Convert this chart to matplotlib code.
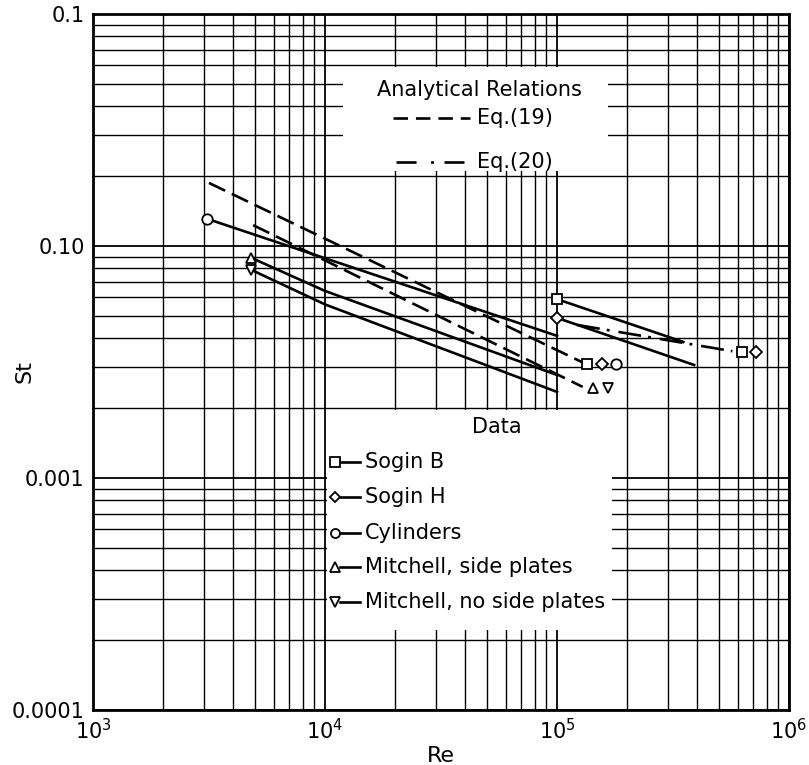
import numpy as np
import matplotlib
matplotlib.use("Agg")
import matplotlib.pyplot as plt
from matplotlib import ticker
from matplotlib.patches import Rectangle
from matplotlib.lines import Line2D

plt.rcParams['font.family'] = ['DejaVu Sans']
plt.rcParams['mathtext.fontset'] = 'dejavusans'

# ---- data series (Re, St) ----
re_cyl = [3.1e3, 1.0e5]
st_cyl = [0.0131, 0.0041]

re_mit_sp = [4.8e3, 1.0e4, 1.0e5]
st_mit_sp = [0.0089, 0.0064, 0.00278]

re_mit_nsp = [4.8e3, 1.0e4, 1.0e5]
st_mit_nsp = [0.0079, 0.0056, 0.00235]

re_sogin_b = [1.0e5, 3.5e5]
st_sogin_b = [0.0059, 0.00386]

re_sogin_h = [1.0e5, 3.9e5]
st_sogin_h = [0.0049, 0.00307]

# ---- analytical relations ----
re_eq19_a = [3.16e3, 1.28e5]
st_eq19_a = [0.0187, 0.00316]

re_eq19_b = [4.9e3, 1.29e5]
st_eq19_b = [0.0123, 0.00247]

re_eq20 = [1.22e5, 5.7e5]
st_eq20 = [0.00457, 0.00352]

# end-of-range symbols for the analytical curves
re_end_ab = [1.35e5, 1.56e5, 1.8e5]
st_end_ab = [0.0031, 0.0031, 0.0031]
re_end_m = [1.43e5, 1.66e5]
st_end_m = [0.00244, 0.00244]
re_end_20 = [6.3e5, 7.2e5]
st_end_20 = [0.0035, 0.0035]

ytick_vals = [1e-4, 1e-3, 1e-2, 1e-1]
ytick_text = ["0.0001", "0.001", "0.10", "0.1"]
xtick_vals = [1e3, 1e4, 1e5, 1e6]
xtick_text = [r"$10^3$", r"$10^4$", r"$10^5$", r"$10^6$"]

legend_names = ["Sogin B", "Sogin H", "Cylinders",
                "Mitchell, side plates", "Mitchell, no side plates"]
legend_marks = ["s", "D", "o", "^", "v"]

# ---- figure ----
fig = plt.figure(figsize=(8.09, 7.65), dpi=100)
ax = fig.add_axes([0.1150, 0.0719, 0.8603, 0.9098])
ax.set_xscale("log")
ax.set_yscale("log")
ax.set_xlim(1e3, 1e6)
ax.set_ylim(1e-4, 1e-1)
ax.set_axisbelow(True)

for axis, vals in ((ax.xaxis, xtick_vals), (ax.yaxis, ytick_vals)):
    axis.set_major_locator(ticker.FixedLocator(vals))
    axis.set_minor_locator(ticker.LogLocator(base=10, subs=np.arange(2, 10)))
    axis.set_minor_formatter(ticker.NullFormatter())

ax.grid(which="major", color="black", linewidth=1.3)
ax.grid(which="minor", color="black", linewidth=1.0)
ax.tick_params(which="both", length=0, labelsize=15, pad=6)
ax.set_xticks(xtick_vals)
ax.set_xticklabels(xtick_text)
ax.set_yticks(ytick_vals)
ax.set_yticklabels(ytick_text)
for sp in ax.spines.values():
    sp.set_linewidth(2.0)
    sp.set_color("black")

ax.set_xlabel("Re", fontsize=16, labelpad=2)
fig.text(24 / 809, 1 - 372 / 765, "St", fontsize=16, rotation=90,
         ha="center", va="center")

lw = 1.9
mk = dict(markerfacecolor="white", markeredgecolor="black",
          markeredgewidth=1.3, linestyle="none", zorder=5)


def msize(m, base=7.5):
    return base - 1.0 if m == "D" else base


# solid data lines with their starting symbol
series = [
    (re_sogin_b, st_sogin_b, "s"),
    (re_sogin_h, st_sogin_h, "D"),
    (re_cyl, st_cyl, "o"),
    (re_mit_sp, st_mit_sp, "^"),
    (re_mit_nsp, st_mit_nsp, "v"),
]
for xs, ys, m in series:
    ax.plot(xs, ys, color="black", linewidth=lw, zorder=4,
            solid_joinstyle="round")
    ax.plot(xs[0], ys[0], marker=m, markersize=msize(m), **mk)

# analytical relations
dash19 = (6.8, 2.8)
dash20 = (8.7, 2.7, 1.1, 3.4)
ax.plot(re_eq19_a, st_eq19_a, color="black", linewidth=lw, dashes=dash19, zorder=4)
ax.plot(re_eq19_b, st_eq19_b, color="black", linewidth=lw, dashes=dash19, zorder=4)
ax.plot(re_eq20, st_eq20, color="black", linewidth=lw, dashes=dash20, zorder=4)

for xs, ys, ms in [(re_end_ab, st_end_ab, ["s", "D", "o"]),
                   (re_end_m, st_end_m, ["^", "v"]),
                   (re_end_20, st_end_20, ["s", "D"])]:
    for x, y, m in zip(xs, ys, ms):
        ax.plot(x, y, marker=m, markersize=msize(m), **mk)

# ---- analytical relations key (white panel over the grid) ----
T = ax.transAxes
ax.add_patch(Rectangle((0.3592, 0.7745), 0.7399 - 0.3592, 0.9239 - 0.7745,
                       transform=T, facecolor="white", edgecolor="none", zorder=1))
ax.text(0.5546, 0.8908, "Analytical Relations", transform=T, fontsize=15,
        ha="center", va="center", zorder=6)
ax.add_line(Line2D([0.431, 0.5417], [0.8505, 0.8505], transform=T, color="black",
                   linewidth=lw, dashes=(5.5, 3.0), zorder=6))
ax.text(0.5517, 0.8505, "Eq.(19)", transform=T, fontsize=15, ha="left",
        va="center", zorder=6)
ax.add_line(Line2D([0.4353, 0.5330], [0.7874, 0.7874], transform=T, color="black",
                   linewidth=lw, dashes=(7.6, 5.5, 1.1, 4.0), zorder=6))
ax.text(0.5517, 0.7874, "Eq.(20)", transform=T, fontsize=15, ha="left",
        va="center", zorder=6)

# ---- data key (white panel over the grid) ----
ax.add_patch(Rectangle((0.336, 0.1149), 0.745 - 0.336, 0.431 - 0.1149,
                       transform=T, facecolor="white", edgecolor="none", zorder=1))
ax.text(0.5805, 0.4066, "Data", transform=T, fontsize=15, ha="center",
        va="center", zorder=6)
key_y = [0.3563, 0.3060, 0.2543, 0.2055, 0.1552]
for name, m, yk in zip(legend_names, legend_marks, key_y):
    ax.add_line(Line2D([0.3549, 0.3836], [yk, yk], transform=T, color="black",
                       linewidth=lw, zorder=6))
    ax.plot(0.3477, yk, marker=m, transform=T, markersize=msize(m, 6.5),
            clip_on=False, **mk)
    ax.text(0.3908, yk, name, transform=T, fontsize=15, ha="left",
            va="center", zorder=6)

fig.savefig("out.png", dpi=100)
